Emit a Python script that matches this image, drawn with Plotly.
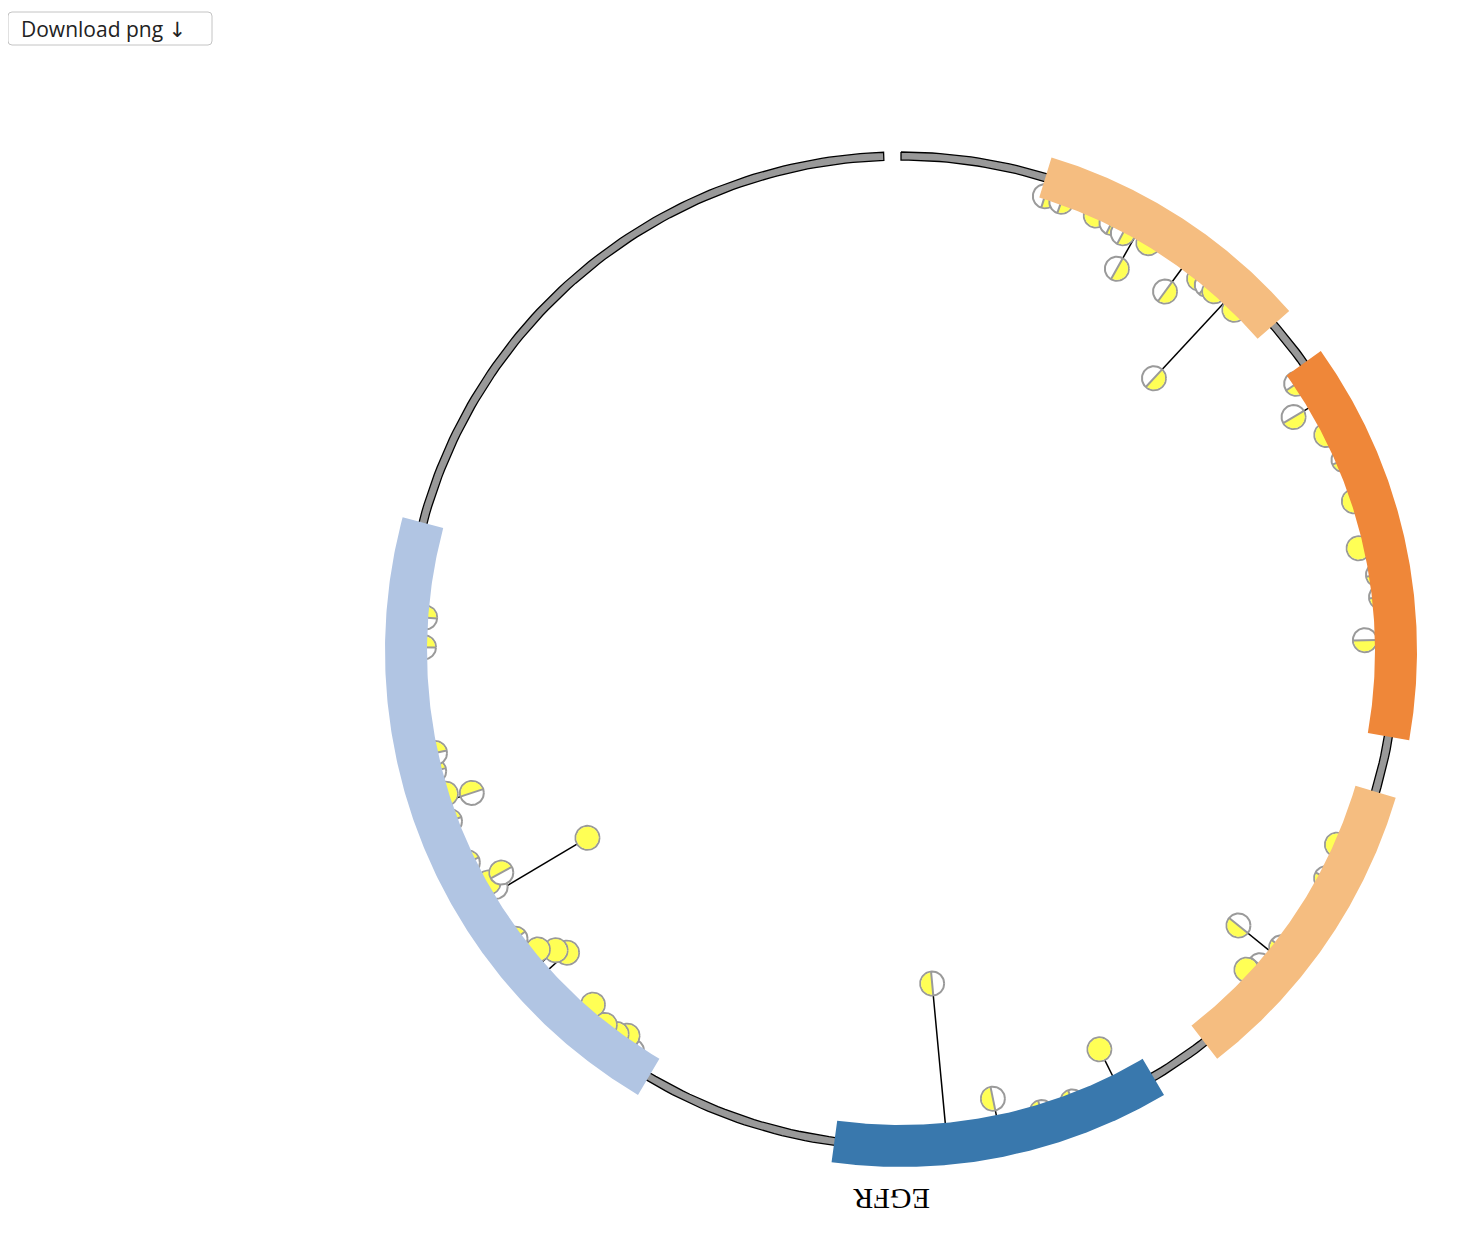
import numpy as np
import plotly.graph_objects as go

# EGFR circular needle plot: protein ring, Pfam domains, mutation lollipops

GENE = "EGFR"
GENE_LEN = 1210

domain_names = ["Recep_L_domain", "Furin-like", "Recep_L_domain", "GF_recep_IV", "Pkinase_Tyr"]
domain_start = [57, 183, 358, 502, 708]
domain_end = [164, 336, 478, 631, 958]
domain_colors = ["#f5bd80", "#ef8739", "#f5bd80", "#3978ad", "#b1c5e3"]

# mutation position (aa), needle height (negative = tucked under the domain), yellow share of the pie
mut_pos = [59, 66, 81, 88, 94, 99, 105, 122, 130, 134, 138, 144, 149,
           188, 199, 212, 224, 241, 260, 272, 281, 298,
           383, 397, 430, 434, 441, 446,
           516, 535, 548, 566, 587,
           719, 724, 728, 734, 743, 766, 770, 775, 784,
           804, 806, 809, 810, 820, 838, 846, 849, 859, 866, 909, 921]
mut_height = [0, 0, 0, 0, 4, 38, 0, 31, 0, 0, 0, 105, 0,
              0, 20, 0, -5, 0, 8, -6, -6, 13,
              0, -5, -5, 42, 0, 7,
              32, -5, -5, 20, 143,
              -5, 5, 0, 0, 8, 27, 20, 7, -4,
              112, 8, 4, 20, -5, -5, 25, 0, -5, 0, 0, 0]
mut_yellow = [0.5, 0.5, 1.0, 0.5, 0.5, 0.5, 1.0, 0.5, 1.0, 0.5, 1.0, 0.5, 1.0,
              0.5, 0.5, 1.0, 0.5, 1.0, 1.0, 0.5, 0.5, 0.5,
              1.0, 0.5, 0.5, 0.5, 0.5, 1.0,
              1.0, 0.5, 0.5, 0.5, 0.5,
              0.5, 1.0, 1.0, 1.0, 1.0, 1.0, 1.0, 1.0, 0.5,
              1.0, 0.5, 1.0, 0.5, 0.5, 0.5, 0.5, 1.0, 0.5, 0.5, 0.5, 0.5]

# geometry (1 unit = 1 screen px, centre of the circle at 0,0)
PAGE_MARGIN = 8
W, H = 1472 - 2 * PAGE_MARGIN, 1253 - 2 * PAGE_MARGIN
CX, CY = 901 - PAGE_MARGIN, 651 - PAGE_MARGIN
RING_IN, RING_OUT = 491, 499
RING_END_DEG = 358
BAND_IN, BAND_OUT = 474, 516
BASE_R = 477
STEM_R = 486
DOT_R = 12
LABEL_R = 548
LABEL_DEG = 181


def deg(pos):
    return np.asarray(pos, dtype=float) / GENE_LEN * 360.0


def xy(r, a):
    a = np.radians(a)
    return r * np.sin(a), r * np.cos(a)


def sector(r0, r1, a0, a1, n=200):
    a = np.linspace(a0, a1, n)
    xo, yo = xy(r1, a)
    xi, yi = xy(r0, a[::-1])
    x = np.concatenate([xo, xi, xo[:1]])
    y = np.concatenate([yo, yi, yo[:1]])
    return x, y


fig = go.Figure()

# protein backbone ring
rx, ry = sector(RING_IN, RING_OUT, 0, RING_END_DEG, 400)
fig.add_trace(go.Scatter(x=rx, y=ry, mode="lines", fill="toself", fillcolor="#999999",
                         line=dict(color="black", width=1.3), hoverinfo="skip"))

# needles
ang = deg(mut_pos)
nx, ny = [], []
for a, h in zip(ang, mut_height):
    if h > 0:
        x0, y0 = xy(STEM_R, a)
        x1, y1 = xy(BASE_R - h, a)
        nx += [x0, x1, None]
        ny += [y0, y1, None]
fig.add_trace(go.Scatter(x=nx, y=ny, mode="lines", line=dict(color="black", width=1.5),
                         hoverinfo="skip"))

# pie markers
t = np.linspace(0, 2 * np.pi, 60)
for p, a, h, f in zip(mut_pos, ang, mut_height, mut_yellow):
    cx, cy = xy(BASE_R - h, a)
    ar = np.radians(a)
    u = np.array([np.sin(ar), np.cos(ar)])      # radial
    v = np.array([np.cos(ar), -np.sin(ar)])     # clockwise tangent
    fig.add_trace(go.Scatter(x=cx + DOT_R * np.cos(t), y=cy + DOT_R * np.sin(t), mode="lines",
                             fill="toself", fillcolor="white", line=dict(color="#9a9a9a", width=2),
                             hoverinfo="text", text=f"{GENE} {p}"))
    s = np.linspace(0, 2 * np.pi * f, 60)
    rr = DOT_R - 0.8
    wx = cx + rr * (np.cos(s) * u[0] + np.sin(s) * v[0])
    wy = cy + rr * (np.cos(s) * u[1] + np.sin(s) * v[1])
    if f < 1:
        wx = np.concatenate([[cx], wx, [cx]])
        wy = np.concatenate([[cy], wy, [cy]])
    fig.add_trace(go.Scatter(x=wx, y=wy, mode="lines", fill="toself", fillcolor="#ffff55",
                             line=dict(width=0), hoverinfo="skip"))
    if f < 1:
        e = 2 * np.pi * f
        ex = cx + DOT_R * (np.cos(e) * u[0] + np.sin(e) * v[0])
        ey = cy + DOT_R * (np.cos(e) * u[1] + np.sin(e) * v[1])
        fig.add_trace(go.Scatter(x=[cx + DOT_R * u[0], cx, ex], y=[cy + DOT_R * u[1], cy, ey],
                                 mode="lines", line=dict(color="#9a9a9a", width=2),
                                 hoverinfo="skip"))

# domain highlights drawn over the ring
for name, s0, s1, c in zip(domain_names, domain_start, domain_end, domain_colors):
    bx, by = sector(BAND_IN, BAND_OUT, deg(s0), deg(s1))
    fig.add_trace(go.Scatter(x=bx, y=by, mode="lines", fill="toself", fillcolor=c,
                             line=dict(width=0), hoverinfo="text", text=name))

lx, ly = xy(LABEL_R, LABEL_DEG)
fig.add_annotation(x=lx, y=ly, text=GENE, showarrow=False, textangle=180,
                   font=dict(family="Liberation Serif", size=30, color="black"))

# "Download png" button: rounded box + text, placed in paper coords from pixels
bx0, bx1, by0, by1, rad = 0, 204, 4, 37, 4
px = lambda v: v / W
py = lambda v: 1 - v / H
btn_path = (f"M {px(bx0 + rad)},{py(by0)} L {px(bx1 - rad)},{py(by0)} "
            f"Q {px(bx1)},{py(by0)} {px(bx1)},{py(by0 + rad)} L {px(bx1)},{py(by1 - rad)} "
            f"Q {px(bx1)},{py(by1)} {px(bx1 - rad)},{py(by1)} L {px(bx0 + rad)},{py(by1)} "
            f"Q {px(bx0)},{py(by1)} {px(bx0)},{py(by1 - rad)} L {px(bx0)},{py(by0 + rad)} "
            f"Q {px(bx0)},{py(by0)} {px(bx0 + rad)},{py(by0)} Z")
fig.add_shape(type="path", xref="paper", yref="paper", path=btn_path,
              line=dict(color="#c4c4c4", width=1), fillcolor="white")
fig.add_annotation(xref="paper", yref="paper", x=px(95), y=py(21), xanchor="center",
                   yanchor="middle", text="Download png <span style='font-family:DejaVu Sans'>\u2193</span>",
                   showarrow=False,
                   font=dict(family="Open Sans, DejaVu Sans", size=21, color="#222222"))

fig.update_layout(
    width=W, height=H, margin=dict(l=0, r=0, t=0, b=0),
    plot_bgcolor="white", paper_bgcolor="white", showlegend=False,
    xaxis=dict(range=[-CX, W - CX], visible=False, fixedrange=True),
    yaxis=dict(range=[CY - H, CY], visible=False, fixedrange=True),
)

fig.write_html("out.html")
